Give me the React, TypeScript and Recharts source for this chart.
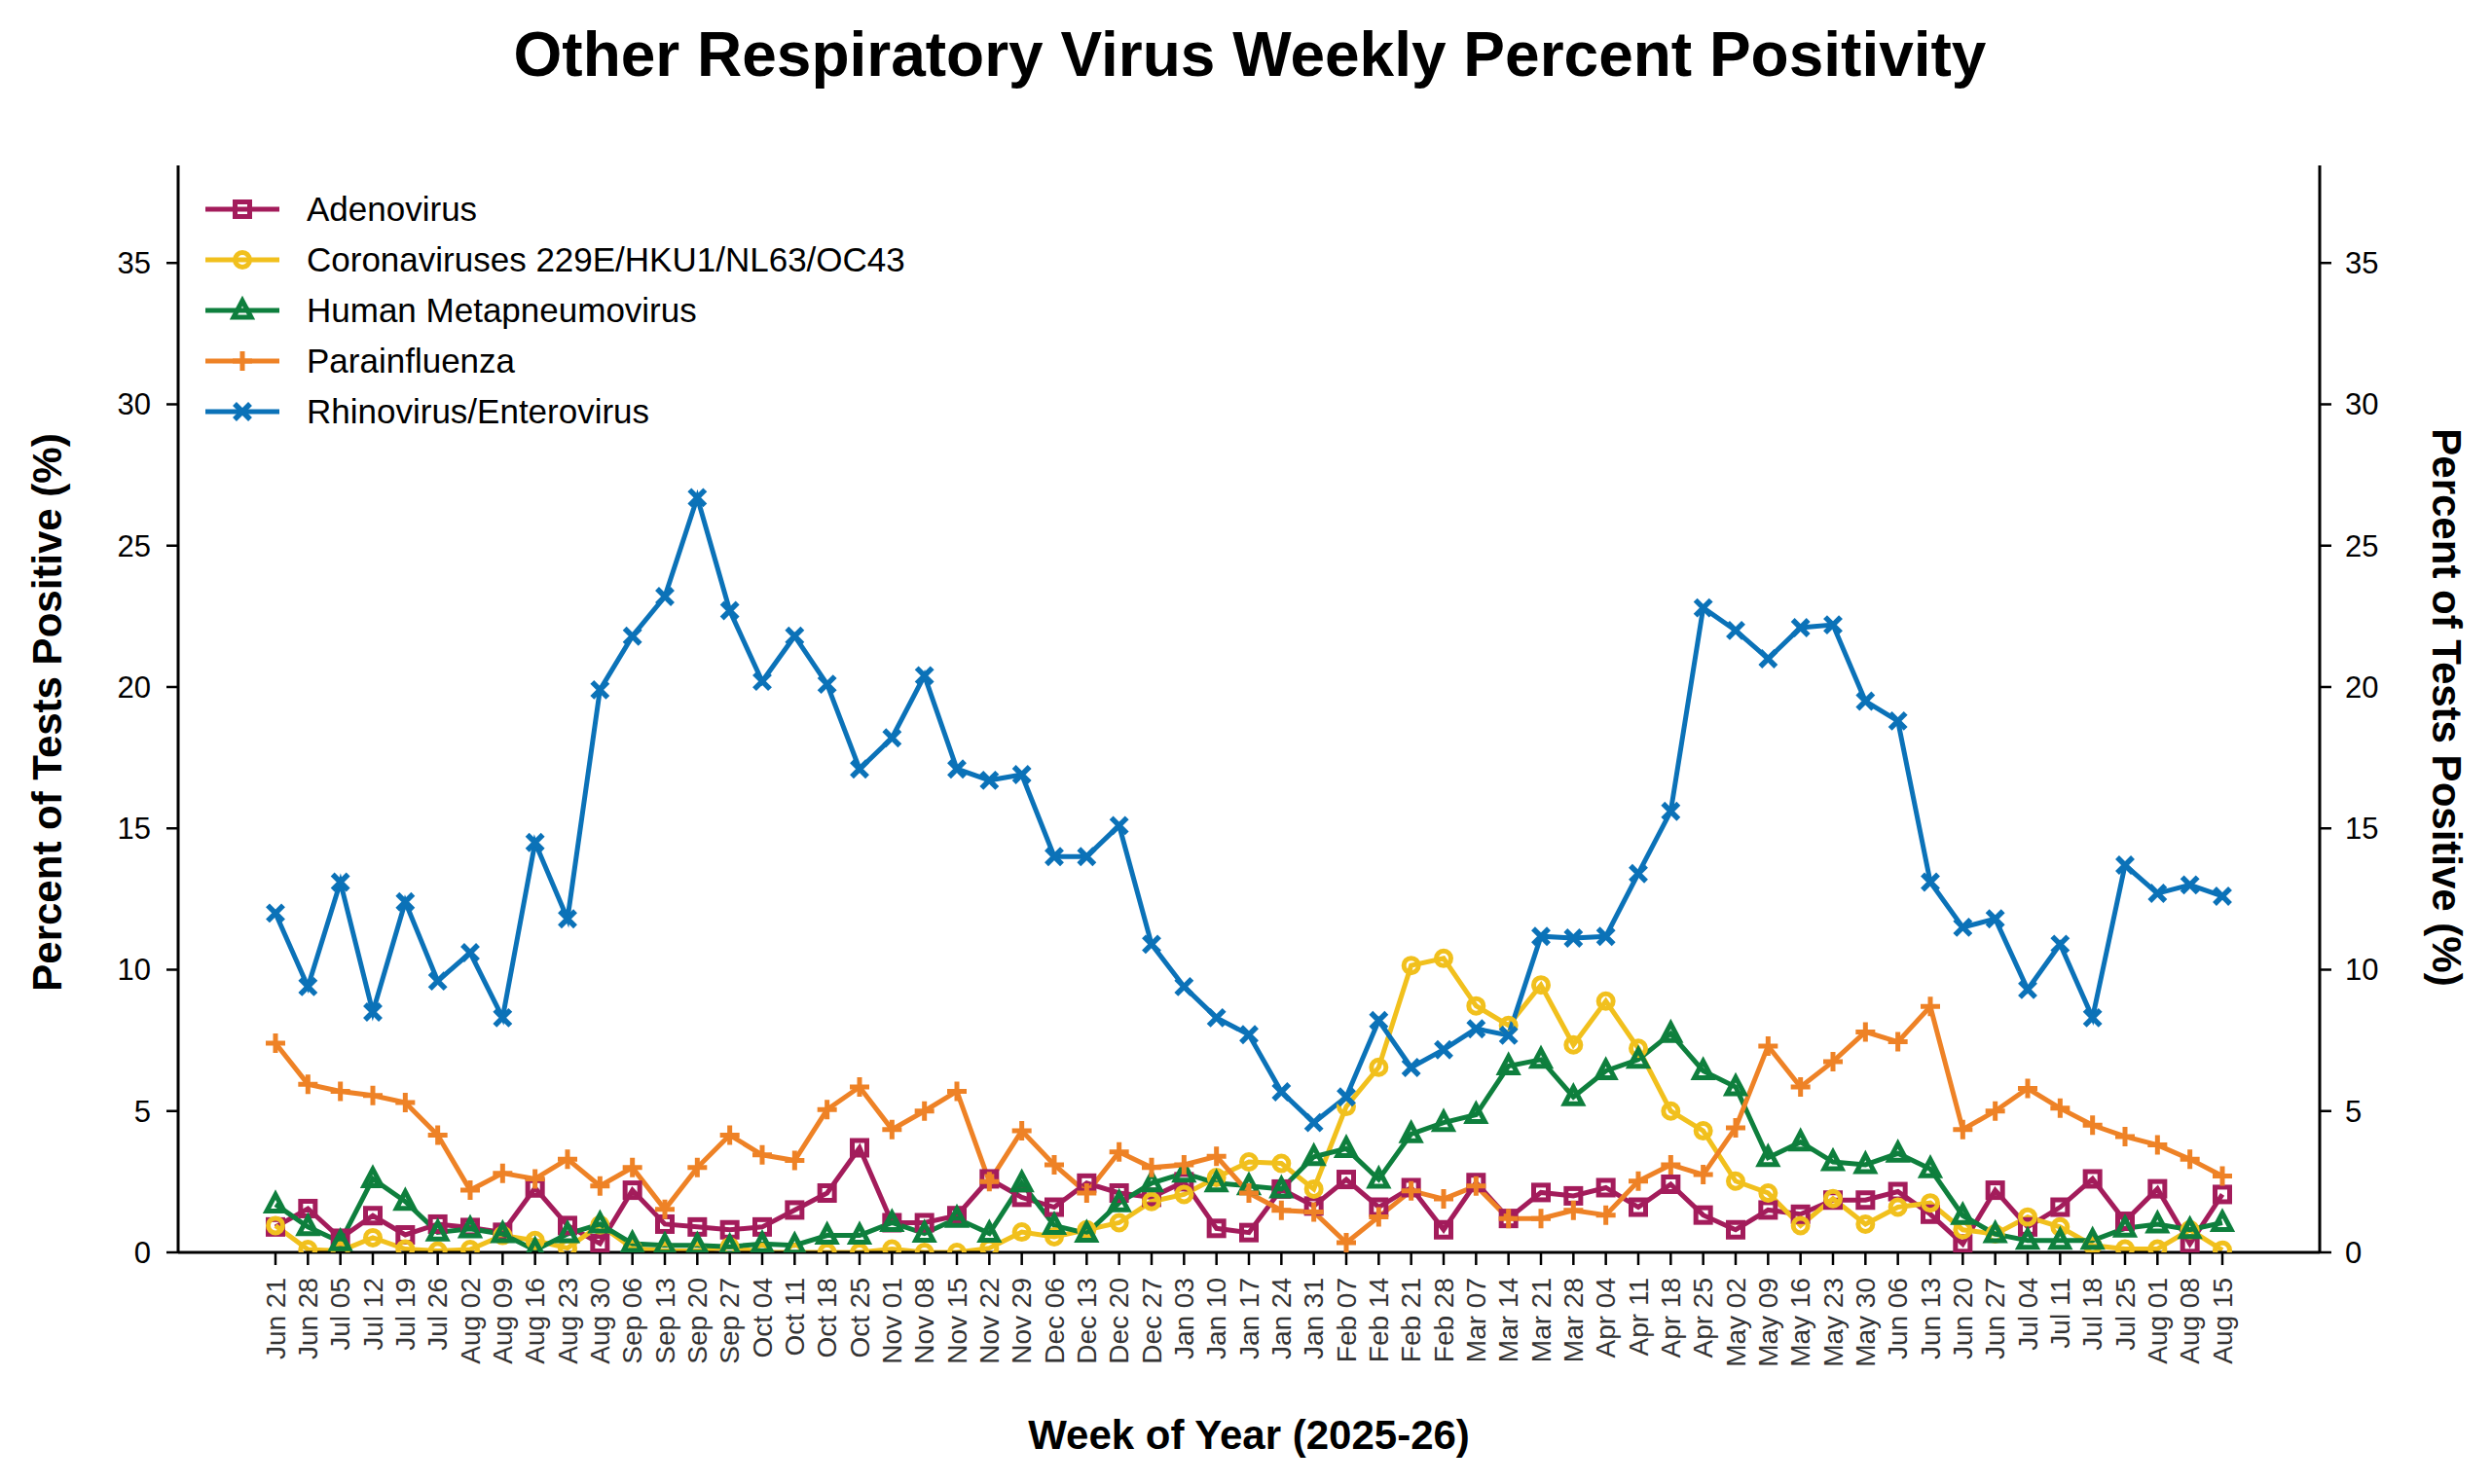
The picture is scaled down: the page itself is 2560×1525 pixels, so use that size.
import { LineChart, Line, XAxis, YAxis } from 'recharts';

const WEEKS = [
  'Jun 21', 'Jun 28', 'Jul 05', 'Jul 12', 'Jul 19', 'Jul 26', 'Aug 02', 'Aug 09', 'Aug 16', 'Aug 23',
  'Aug 30', 'Sep 06', 'Sep 13', 'Sep 20', 'Sep 27', 'Oct 04', 'Oct 11', 'Oct 18', 'Oct 25', 'Nov 01',
  'Nov 08', 'Nov 15', 'Nov 22', 'Nov 29', 'Dec 06', 'Dec 13', 'Dec 20', 'Dec 27', 'Jan 03', 'Jan 10',
  'Jan 17', 'Jan 24', 'Jan 31', 'Feb 07', 'Feb 14', 'Feb 21', 'Feb 28', 'Mar 07', 'Mar 14', 'Mar 21',
  'Mar 28', 'Apr 04', 'Apr 11', 'Apr 18', 'Apr 25', 'May 02', 'May 09', 'May 16', 'May 23', 'May 30',
  'Jun 06', 'Jun 13', 'Jun 20', 'Jun 27', 'Jul 04', 'Jul 11', 'Jul 18', 'Jul 25', 'Aug 01', 'Aug 08',
  'Aug 15',
];

const ADENO = [
  0.9, 1.55, 0.5, 1.3, 0.62, 1.0, 0.88, 0.71, 2.28, 0.95,
  0.31, 2.2, 1.0, 0.9, 0.8, 0.9, 1.5, 2.1, 3.7, 1.05,
  1.05, 1.3, 2.6, 1.95, 1.6, 2.45, 2.1, 1.95, 2.5, 0.85,
  0.7, 2.24, 1.64, 2.58, 1.6, 2.29, 0.8, 2.47, 1.2, 2.12,
  2.0, 2.29, 1.6, 2.41, 1.32, 0.8, 1.5, 1.35, 1.85, 1.85,
  2.15, 1.35, 0.3, 2.2, 0.9, 1.6, 2.6, 1.1, 2.25, 0.3,
  2.05,
];

const CORONA = [
  0.95, 0.1, 0.05, 0.52, 0.12, 0.05, 0.1, 0.6, 0.42, 0.15,
  0.97, 0.15, 0.05, 0.05, 0.2, 0.0, 0.0, 0.0, 0.0, 0.12,
  0.0, 0.0, 0.15, 0.72, 0.55, 0.8, 1.05, 1.8, 2.05, 2.65,
  3.2, 3.15, 2.24, 5.16, 6.55, 10.15, 10.4, 8.72, 8.03, 9.46,
  7.34, 8.89, 7.22, 5.0, 4.3, 2.52, 2.1, 0.95, 1.9, 1.0,
  1.6, 1.75, 0.8, 0.65, 1.25, 0.9, 0.25, 0.12, 0.12, 0.8,
  0.08,
];

const HMPV = [
  1.7, 0.9, 0.37, 2.6, 1.8, 0.71, 0.83, 0.65, 0.08, 0.65,
  1.0, 0.31, 0.25, 0.25, 0.2, 0.3, 0.25, 0.6, 0.6, 1.05,
  0.67, 1.2, 0.67, 2.45, 0.95, 0.67, 1.75, 2.45, 2.8, 2.45,
  2.35, 2.24, 3.38, 3.67, 2.58, 4.19, 4.59, 4.87, 6.59, 6.82,
  5.5, 6.42, 6.82, 7.74, 6.42, 5.85, 3.35, 3.9, 3.2, 3.1,
  3.5, 2.95, 1.3, 0.65, 0.42, 0.42, 0.42, 0.85, 1.0, 0.8,
  1.05,
];

const PARA = [
  7.4, 5.95, 5.7, 5.55, 5.3, 4.15, 2.2, 2.8, 2.6, 3.3,
  2.35, 3.0, 1.52, 3.0, 4.15, 3.45, 3.25, 5.05, 5.85, 4.35,
  5.0, 5.7, 2.5, 4.3, 3.1, 2.1, 3.55, 3.0, 3.1, 3.4,
  2.1, 1.49, 1.43, 0.34, 1.26, 2.18, 1.89, 2.35, 1.2, 1.2,
  1.49, 1.32, 2.52, 3.1, 2.75, 4.41, 7.3, 5.85, 6.75, 7.8,
  7.45, 8.7, 4.35, 5.0, 5.8, 5.1, 4.5, 4.1, 3.8, 3.3,
  2.7,
];

const RHINO = [
  12.0, 9.4, 13.1, 8.5, 12.4, 9.6, 10.6, 8.3, 14.5, 11.8,
  19.9, 21.8, 23.2, 26.7, 22.7, 20.2, 21.8, 20.1, 17.1, 18.2,
  20.4, 17.1, 16.7, 16.9, 14.0, 14.0, 15.1, 10.9, 9.4, 8.3,
  7.7, 5.68, 4.59, 5.5, 8.2, 6.54, 7.17, 7.91, 7.68, 11.18,
  11.12, 11.18, 13.4, 15.6, 22.8, 22.0, 21.0, 22.1, 22.2, 19.5,
  18.8, 13.1, 11.5, 11.8, 9.3, 10.9, 8.3, 13.7, 12.7, 13.0,
  12.6,
];

const Y_TICKS = [0, 5, 10, 15, 20, 25, 30, 35];
const X_TICKS = WEEKS.map((_, i) => i);

const FONT = '"Liberation Sans", Arial, Helvetica, sans-serif';

type Shape = 'square' | 'circle' | 'triangle' | 'plus' | 'cross';

const SERIES: { key: string; name: string; color: string; shape: Shape }[] = [
  { key: 'adeno', name: 'Adenovirus', color: '#a31c5b', shape: 'square' },
  { key: 'corona', name: 'Coronaviruses 229E/HKU1/NL63/OC43', color: '#f1c01d', shape: 'circle' },
  { key: 'hmpv', name: 'Human Metapneumovirus', color: '#0e7f3d', shape: 'triangle' },
  { key: 'para', name: 'Parainfluenza', color: '#ee8226', shape: 'plus' },
  { key: 'rhino', name: 'Rhinovirus/Enterovirus', color: '#0b72b8', shape: 'cross' },
];

const rows = WEEKS.map((week, i) => ({
  idx: i,
  week,
  adeno: ADENO[i],
  corona: CORONA[i],
  hmpv: HMPV[i],
  para: PARA[i],
  rhino: RHINO[i],
}));

function Marker({ cx, cy, color, shape }: { cx: number; cy: number; color: string; shape: Shape }) {
  if (cx == null || cy == null) return null;
  switch (shape) {
    case 'square':
      return <rect x={cx - 7.5} y={cy - 7.5} width={15} height={15} fill="none" stroke={color} strokeWidth={5} />;
    case 'circle':
      return <circle cx={cx} cy={cy} r={7.5} fill="none" stroke={color} strokeWidth={5} />;
    case 'triangle':
      return (
        <polygon
          points={`${cx},${cy - 10} ${cx - 9},${cy + 7} ${cx + 9},${cy + 7}`}
          fill="none"
          stroke={color}
          strokeWidth={5}
          strokeLinejoin="miter"
        />
      );
    case 'plus':
      return <path d={`M${cx - 10},${cy}H${cx + 10}M${cx},${cy - 10}V${cy + 10}`} stroke={color} strokeWidth={5} />;
    default:
      return (
        <path
          d={`M${cx - 8},${cy - 8}L${cx + 8},${cy + 8}M${cx + 8},${cy - 8}L${cx - 8},${cy + 8}`}
          stroke={color}
          strokeWidth={5.5}
        />
      );
  }
}

function WeekTick(props: any) {
  const { x, y, payload } = props;
  return (
    <g transform={`translate(${x},${y})`}>
      <text
        transform="rotate(-90)"
        textAnchor="end"
        dominantBaseline="central"
        fontSize={28}
        fontFamily={FONT}
        fill="#333"
      >
        {WEEKS[payload.value]}
      </text>
    </g>
  );
}

const axisLine = { stroke: '#000', strokeWidth: 3 };
const tickLine = { stroke: '#000', strokeWidth: 2.5 };
const yTick = { fill: '#000', fontSize: 31, fontFamily: FONT };

export default function App() {
  return (
    <div
      style={{
        position: 'absolute',
        left: 0,
        top: 0,
        width: 2560,
        height: 1525,
        background: '#fff',
        fontFamily: FONT,
        overflow: 'hidden',
      }}
    >
      <div
        style={{
          position: 'absolute',
          left: 0,
          width: 2568,
          top: 24,
          textAlign: 'center',
          fontSize: 64,
          lineHeight: '64px',
          fontWeight: 700,
          color: '#000',
        }}
      >
        Other Respiratory Virus Weekly Percent Positivity
      </div>

      <LineChart
        width={2560}
        height={1525}
        data={rows}
        margin={{ top: 170, right: 77, bottom: 118, left: 83 }}
      >
        <XAxis
          dataKey="idx"
          type="number"
          domain={[-3, 63]}
          ticks={X_TICKS}
          interval={0}
          height={120}
          axisLine={axisLine}
          tickLine={tickLine}
          tickSize={13}
          tickMargin={13}
          tick={<WeekTick />}
        />
        <YAxis
          yAxisId="left"
          domain={[0, 38.45]}
          ticks={Y_TICKS}
          allowDataOverflow
          width={100}
          axisLine={axisLine}
          tickLine={tickLine}
          tickSize={12}
          tickMargin={16}
          tick={yTick}
        />
        <YAxis
          yAxisId="right"
          orientation="right"
          domain={[0, 38.45]}
          ticks={Y_TICKS}
          allowDataOverflow
          width={100}
          axisLine={axisLine}
          tickLine={tickLine}
          tickSize={12}
          tickMargin={14}
          tick={yTick}
        />
        {SERIES.map((s) => (
          <Line
            key={s.key}
            yAxisId="left"
            type="linear"
            dataKey={s.key}
            name={s.name}
            stroke={s.color}
            strokeWidth={5}
            isAnimationActive={false}
            activeDot={false}
            dot={(p: any) => (
              <Marker key={`${s.key}-${p.index}`} cx={p.cx} cy={p.cy} color={s.color} shape={s.shape} />
            )}
          />
        ))}
      </LineChart>

      {/* legend */}
      <div style={{ position: 'absolute', left: 211, top: 189 }}>
        {SERIES.map((s) => (
          <div key={s.key} style={{ display: 'flex', alignItems: 'center', height: 52 }}>
            <svg width={76} height={52} style={{ display: 'block' }}>
              <line x1={0} y1={26} x2={76} y2={26} stroke={s.color} strokeWidth={5} />
              <Marker cx={38} cy={26} color={s.color} shape={s.shape} />
            </svg>
            <span style={{ marginLeft: 28, fontSize: 35, lineHeight: '52px', color: '#000', whiteSpace: 'nowrap' }}>
              {s.name}
            </span>
          </div>
        ))}
      </div>

      {/* axis titles */}
      <div
        style={{
          position: 'absolute',
          left: 883,
          width: 800,
          top: 1454,
          textAlign: 'center',
          fontSize: 42,
          lineHeight: '42px',
          fontWeight: 700,
          color: '#000',
        }}
      >
        Week of Year (2025-26)
      </div>
      <div
        style={{
          position: 'absolute',
          left: 49 - 400,
          width: 800,
          top: 732 - 21,
          height: 42,
          textAlign: 'center',
          fontSize: 42,
          lineHeight: '42px',
          fontWeight: 700,
          color: '#000',
          transform: 'rotate(-90deg)',
        }}
      >
        Percent of Tests Positive (%)
      </div>
      <div
        style={{
          position: 'absolute',
          left: 2513 - 400,
          width: 800,
          top: 727 - 21,
          height: 42,
          textAlign: 'center',
          fontSize: 42,
          lineHeight: '42px',
          fontWeight: 700,
          color: '#000',
          transform: 'rotate(90deg)',
        }}
      >
        Percent of Tests Positive (%)
      </div>
    </div>
  );
}
